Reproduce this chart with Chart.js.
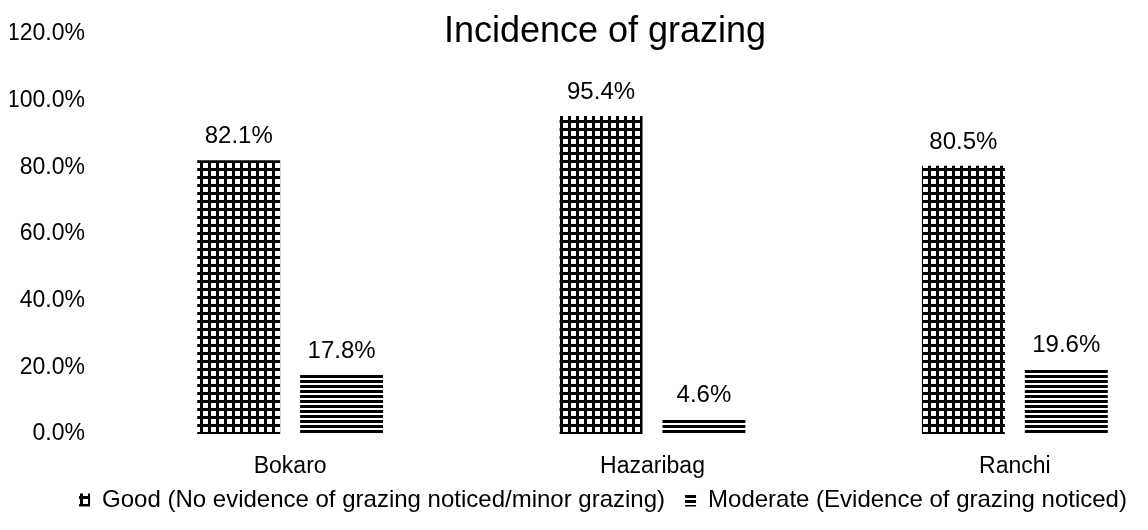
<!DOCTYPE html>
<html>
<head>
<meta charset="utf-8">
<title>Incidence of grazing</title>
<script src="https://cdn.jsdelivr.net/npm/chart.js@4.4.0/dist/chart.umd.min.js"></script>
<style>
    html, body { margin: 0; padding: 0; background: #fff; overflow: hidden; }
    #wrap { width: 1210px; height: 530px; }
</style>
</head>
<body>
<div id="wrap"><canvas id="grazingChart" width="1210" height="530"></canvas></div>
<script>
const districts = ['Bokaro', 'Hazaribag', 'Ranchi'];
const goodValues = [82.1, 95.4, 80.5];
const moderateValues = [17.8, 4.6, 19.6];
const seriesNames = [
    'Good (No evidence of grazing noticed/minor grazing)',
    'Moderate (Evidence of grazing noticed)'
];
const yTicks = [0, 20, 40, 60, 80, 100, 120];
const chartTitle = 'Incidence of grazing';

const FONT = '"Liberation Sans", Arial, sans-serif';

// hatch patterns like the printed chart
function gridPattern() {
    const c = document.createElement('canvas');
    c.width = 8; c.height = 8;
    const g = c.getContext('2d');
    g.fillStyle = '#fff';
    g.fillRect(0, 0, 8, 8);
    g.fillStyle = '#000';
    g.fillRect(0, 0, 3, 8);
    g.fillRect(0, 0, 8, 3);
    return g.createPattern(c, 'repeat');
}

function linePattern() {
    const c = document.createElement('canvas');
    c.width = 8; c.height = 5;
    const g = c.getContext('2d');
    g.fillStyle = '#fff';
    g.fillRect(0, 0, 8, 5);
    g.fillStyle = '#000';
    g.fillRect(0, 0, 8, 3);
    return g.createPattern(c, 'repeat');
}

// value labels above bars + title
const barLabels = {
    id: 'barLabels',
    afterDatasetsDraw(chart) {
        const ctx = chart.ctx;
        ctx.save();
        ctx.fillStyle = '#000';
        ctx.textAlign = 'center';
        ctx.textBaseline = 'alphabetic';
        ctx.font = '24px ' + FONT;
        chart.data.datasets.forEach((ds, i) => {
            chart.getDatasetMeta(i).data.forEach((bar, j) => {
                ctx.fillText(ds.data[j].toFixed(1) + '%', bar.x, bar.y - 17);
            });
        });
        ctx.font = '36px ' + FONT;
        ctx.fillText(chartTitle, chart.width / 2, 42);
        ctx.restore();
    }
};

const ctx = document.getElementById('grazingChart').getContext('2d');

new Chart(ctx, {
    type: 'bar',
    data: {
        labels: districts,
        datasets: [
            { label: seriesNames[0], data: goodValues, backgroundColor: gridPattern(), borderWidth: 0 },
            { label: seriesNames[1], data: moderateValues, backgroundColor: linePattern(), borderWidth: 0 }
        ]
    },
    options: {
        responsive: false,
        animation: false,
        layout: { padding: { top: 34, left: 10, right: 14, bottom: 8 } },
        datasets: {
            bar: { categoryPercentage: 0.568, barPercentage: 0.806 }
        },
        scales: {
            x: {
                grid: { display: false, drawTicks: false },
                border: { display: false },
                afterFit: axis => { axis.height = 46; },
                ticks: { color: '#000', font: { family: FONT, size: 23 }, padding: 19 }
            },
            y: {
                min: 0,
                max: 120,
                grid: { display: false, drawTicks: false },
                border: { display: false },
                afterBuildTicks: axis => { axis.ticks = yTicks.map(v => ({ value: v })); },
                afterFit: axis => {
                    axis.width = 99;
                    axis.paddingTop = 0;
                    axis.paddingBottom = 0;
                },
                ticks: {
                    color: '#000',
                    padding: 24,
                    font: { family: FONT, size: 23 },
                    callback: v => v.toFixed(1) + '%'
                }
            }
        },
        plugins: {
            title: { display: false },
            tooltip: { enabled: false },
            legend: {
                position: 'bottom',
                labels: {
                    color: '#000',
                    font: { family: FONT, size: 24 },
                    boxWidth: 11,
                    boxHeight: 13,
                    padding: 8,
                    generateLabels: chart => Chart.defaults.plugins.legend.labels.generateLabels(chart)
                        .map((item, i) => i === 0 ? { ...item, text: item.text + '\u2002' } : item)
                }
            }
        }
    },
    plugins: [barLabels]
});
</script>
</body>
</html>
